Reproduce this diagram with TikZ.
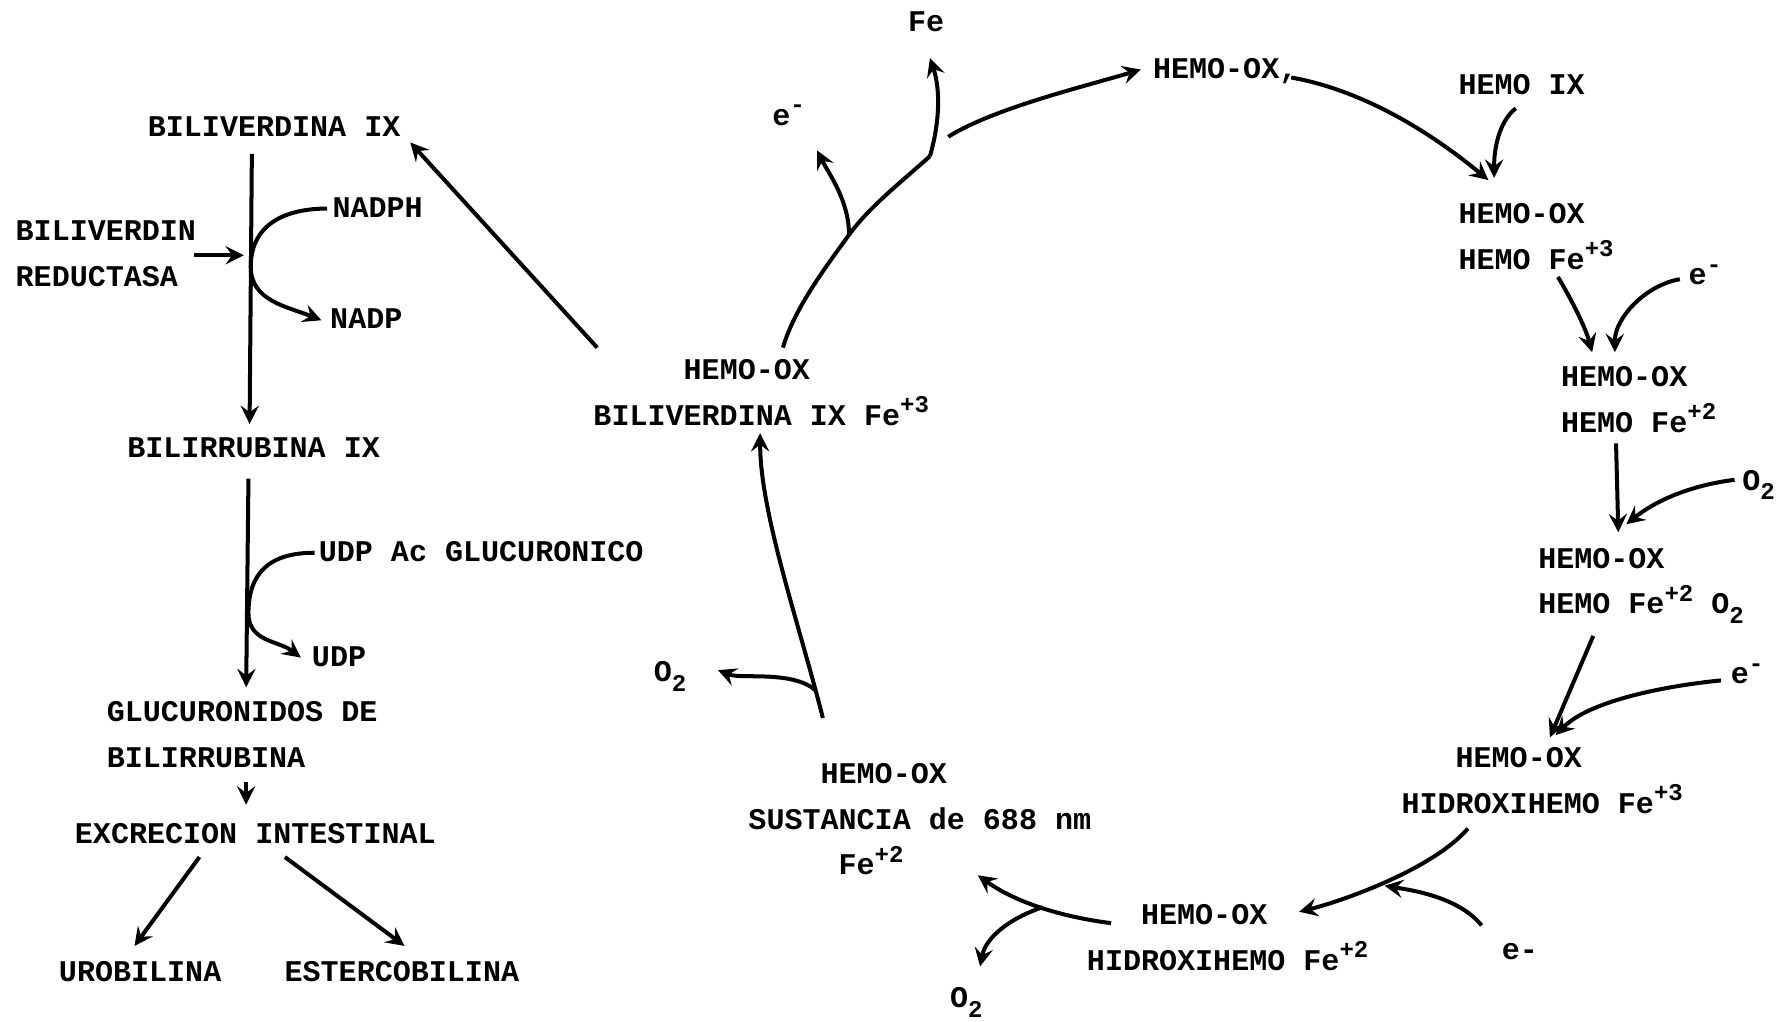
\documentclass[tikz,border=0pt]{standalone}
\usepackage{fontspec}
\setmonofont{Liberation Mono}
\usetikzlibrary{calc,positioning}
\newcommand\supx[1]{\raisebox{0.8ex}{\fontsize{6}{6}\selectfont #1}}
\newcommand\subx[1]{\raisebox{-0.6ex}{\fontsize{6}{6}\selectfont #1}}

\begin{document}
\begin{tikzpicture}[x=0.01cm,y=-0.01cm,line width=1pt,>=stealth,
  every node/.style={inner sep=0pt,align=left,font=\ttfamily\bfseries\fontsize{7.5}{11.4}\selectfont}]
  \useasboundingbox (0,0) rectangle (1568,896);
  \node[anchor=base west] (bv) at (128,120) {BILIVERDINA IX};
  \node[anchor=north west] (brd) at (12,192) {BILIVERDIN\\REDUCTASA};
  \node[anchor=base west] (nadph) at (290,191) {NADPH};
  \node[anchor=base west] (nadp) at (288,288) {NADP};
  \node[anchor=base west] (br) at (110,401) {BILIRRUBINA IX};
  \node[anchor=base west] (ug) at (278,493) {UDP Ac GLUCURONICO};
  \node[anchor=base west] (udp) at (272,585) {UDP};
  \node[anchor=north west] (gl) at (92,614) {GLUCURONIDOS DE\\BILIRRUBINA};
  \node[anchor=base west] (ex) at (64,740) {EXCRECION INTESTINAL};
  \node[anchor=base west] (uro) at (50,861) {UROBILINA};
  \node[anchor=base west] (est) at (248,861) {ESTERCOBILINA};
  \node[anchor=base west] (fe) at (795,28) {Fe};
  \node[anchor=base west] (em1) at (676,110) {e\supx{-}};
  \node[anchor=base west] (hox) at (1010,69) {HEMO-OX,};
  \node[anchor=base west] (hemo) at (1278,83) {HEMO IX};
  \node[anchor=north west] (hf3) at (1278,177) {HEMO-OX\\HEMO Fe\supx{+3}};
  \node[anchor=base west] (em2) at (1480,250) {e\supx{-}};
  \node[anchor=north west] (hf2) at (1368,320) {HEMO-OX\\HEMO Fe\supx{+2}};
  \node[anchor=base west] (o2a) at (1527,430) {O\subx{2}};
  \node[anchor=north west] (hf2o) at (1348,479) {HEMO-OX\\HEMO Fe\supx{+2} O\subx{2}};
  \node[anchor=base west] (em3) at (1517,600) {e\supx{-}};
  \node[anchor=north west] (hh3) at (1228,654) {\phantom{HID}HEMO-OX\\HIDROXIHEMO Fe\supx{+3}};
  \node[anchor=base west] (em4) at (1316,842) {e-};
  \node[anchor=north west] (hh2) at (952,792) {\phantom{HID}HEMO-OX\\HIDROXIHEMO Fe\supx{+2}};
  \node[anchor=base west] (o2b) at (832,884) {O\subx{2}};
  \node[anchor=north west] (sus) at (655,668) {\phantom{SUST}HEMO-OX\\SUSTANCIA de 688 nm\\\phantom{SUSTA}Fe\supx{+2}};
  \node[anchor=base west] (o2c) at (572,598) {O\subx{2}};
  \node[anchor=north west] (bvfe) at (519,314) {\phantom{BILIV}HEMO-OX\\BILIVERDINA IX Fe\supx{+3}};
  \coordinate (r1) at (220,234);
  \coordinate (r2) at (218,538);
  \coordinate (b1) at (745,206);
  \coordinate (b2) at (816,137);
  \coordinate (b3) at (832,120);
  \coordinate (b4) at (1208,776);
  \coordinate (b5) at (915,796);
  \coordinate (b6) at (716,606);
  \draw[->] ([shift={(93,15)}]bv.base west) -- ([shift={(109,-29)}]br.base west);
  \draw[->] ([shift={(158,32)}]brd.north west) -- ++(44,0);
  \draw[->] ([shift={(-3,-8)}]nadph.base west) .. controls +(-40,0) and +(0,-35) .. (r1)
    .. controls +(0,30) and +(-30,-12) .. ([shift={(-6,-7)}]nadp.base west);
  \draw[->] ([shift={(108,19)}]br.base west) -- ([shift={(124,-11)}]gl.north west);
  \draw[->] ([shift={(-2,-8)}]ug.base west) .. controls +(-40,0) and +(0,-35) .. (r2)
    .. controls +(0,25) and +(-20,-15) .. ([shift={(-8,-8)}]udp.base west);
  \draw[->] ([shift={(124,72)}]gl.north west) -- ([shift={(152,-34)}]ex.base west);
  \draw[->] ([shift={(111,12)}]ex.base west) -- ([shift={(68,-31)}]uro.base west);
  \draw[->] ([shift={(186,12)}]ex.base west) -- ([shift={(107,-31)}]est.base west);
  \draw[->] ([shift={(5,-9)}]bvfe.north west) -- ([shift={(232,5)}]bv.base west);
  \draw ([shift={(168,-9)}]bvfe.north west) .. controls +(10,-35) and +(-18,25) .. (b1)
    .. controls +(18,-25) and +(-22,20) .. (b2);
  \draw[->] (b2) .. controls +(10,-35) and +(8,24) .. ([shift={(21,23)}]fe.base west);
  \draw[->] (b1) .. controls +(0,-30) and +(10,20) .. ([shift={(41,22)}]em1.base west);
  \draw[->] (b3) .. controls +(40,-25) and +(-50,15) .. ([shift={(-9,-8)}]hox.base west);
  \draw[->] ([shift={(123,-1)}]hox.base west) .. controls +(67,12) and +(-46,-38) .. ([shift={(28,-19)}]hf3.north west);
  \draw[->] ([shift={(52,12)}]hemo.base west) .. controls +(-15,12) and +(0,-25) .. ([shift={(33,-21)}]hf3.north west);
  \draw[->] ([shift={(89,66)}]hf3.north west) .. controls +(12,20) and +(-6,-22) .. ([shift={(29,-11)}]hf2.north west);
  \draw[->] ([shift={(-6,-5)}]em2.base west) .. controls +(-30,5) and +(0,-30) .. ([shift={(49,-11)}]hf2.north west);
  \draw[->] ([shift={(50,69)}]hf2.north west) -- ([shift={(72,-12)}]hf2o.north west);
  \draw[->] ([shift={(-5,-9)}]o2a.base west) .. controls +(-40,5) and +(25,-20) .. ([shift={(79,-19)}]hf2o.north west);
  \draw[->] ([shift={(50,79)}]hf2o.north west) -- ([shift={(132,-7)}]hh3.north west);
  \draw[->] ([shift={(-7,-3)}]em3.base west) .. controls +(-50,5) and +(30,-30) .. ([shift={(137,-9)}]hh3.north west);
  \draw[->] ([shift={(60,73)}]hh3.north west) .. controls +(-30,35) and +(40,-10) .. ([shift={(188,8)}]hh2.north west);
  \draw[->,shorten >=2pt] ([shift={(-16,-30)}]em4.base west) .. controls +(-20,-25) and +(30,5) .. (b4);
  \draw[->] ([shift={(23,18)}]hh2.north west) .. controls +(-40,-5) and +(35,25) .. ([shift={(203,100)}]sus.north west);
  \draw[->] (b5) .. controls +(-30,10) and +(5,-25) .. ([shift={(28,-36)}]o2b.base west);
  \draw[->] ([shift={(67,-38)}]sus.north west) .. controls +(-20,-80) and +(0,70) .. ([shift={(148,66)}]bvfe.north west);
  \draw[->] (b6) .. controls +(-20,-18) and +(20,8) .. ([shift={(58,-10)}]o2c.base west);
\end{tikzpicture}
\end{document}
